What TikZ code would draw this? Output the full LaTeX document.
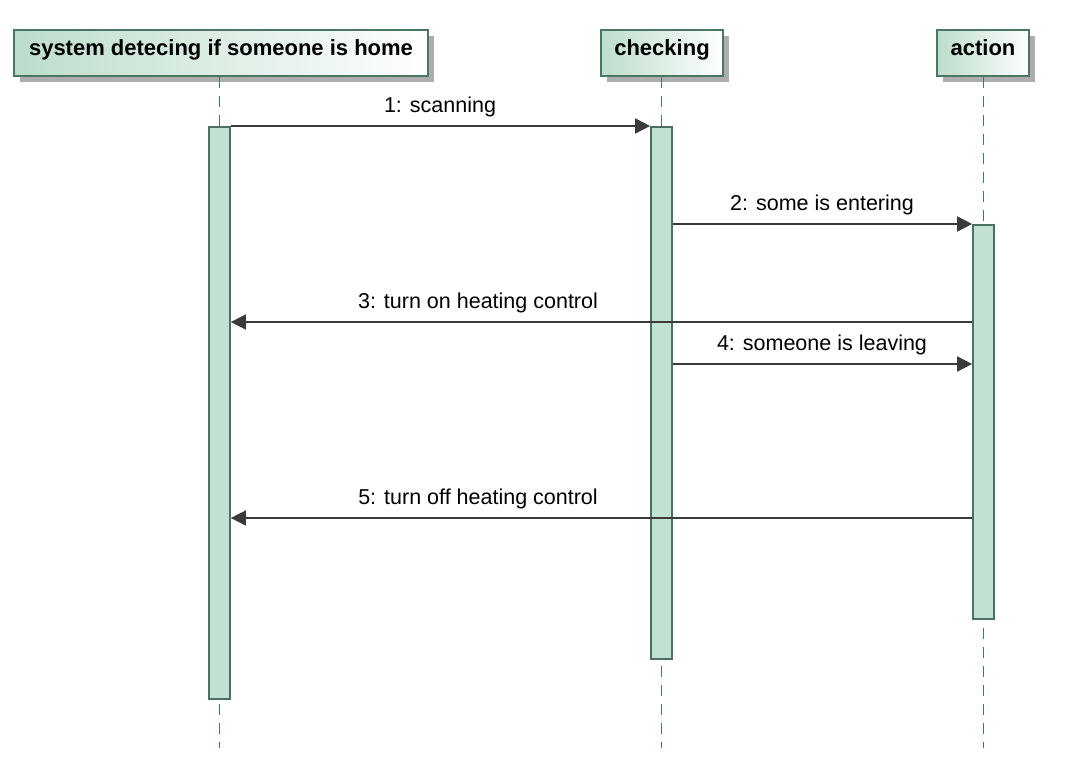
\documentclass[tikz,border=0pt]{standalone}
\usepackage{fontspec}
\setmainfont{Liberation Sans}
\usetikzlibrary{arrows.meta,shadows}
\definecolor{pborder}{HTML}{4B7762}
\definecolor{pfill}{HTML}{BCDDCB}
\definecolor{actfill}{HTML}{C2E1D2}
\definecolor{actborder}{HTML}{4A7060}
\definecolor{msgcol}{HTML}{3A3A3A}
\begin{document}
\begin{tikzpicture}[x=1pt,y=-1pt,
  participant/.style={draw=pborder, line width=1.7pt, left color=pfill, right color=white,
    minimum height=46pt, inner sep=0pt, font=\fontsize{22}{26}\selectfont\bfseries,
    text height=11pt, text depth=7pt,
    drop shadow={shadow xshift=6pt, shadow yshift=-6pt, fill=black!32, opacity=1}},
  lifeline/.style={draw=pborder, line width=1.8pt, dash pattern=on 11pt off 8pt},
  actbar/.style={draw=actborder, fill=actfill, line width=1.7pt, minimum width=21pt,
    inner sep=0pt, anchor=north},
  msg/.style={draw=msgcol, line width=1.6pt, -{Triangle[length=15pt,width=15pt]}},
  msglabel/.style={font=\fontsize{21.5}{26}\selectfont, anchor=base, inner sep=0pt}
]
\fill[white] (0,0) rectangle (1092,782);
\useasboundingbox (0,0) rectangle (1092,782);

% participants
\node[participant, minimum width=414pt] (p1) at (221,53) {system detecing if someone is home};
\node[participant, minimum width=122pt] (p2) at (662,53) {checking};
\node[participant, minimum width=92pt] (p3) at (983,53) {action};

% lifeline ends
\coordinate (l1) at (219.5,748);
\coordinate (l2) at (661.5,748);
\coordinate (l3) at (983.5,748);

\draw[lifeline] (p1.south -| l1) -- (l1);
\draw[lifeline] (p2.south -| l2) -- (l2);
\draw[lifeline] (p3.south -| l3) -- (l3);

% activation bars
\node[actbar, minimum height=572pt] (a1) at (219.5,126) {};
\node[actbar, minimum height=532pt] (a2) at (661.5,126) {};
\node[actbar, minimum height=394pt] (a3) at (983.5,224) {};

% message levels
\coordinate (y1) at (0,126);
\coordinate (y2) at (0,224);
\coordinate (y3) at (0,322);
\coordinate (y4) at (0,364);
\coordinate (y5) at (0,518);

\draw[msg] (a1.east |- y1) -- (a2.west |- y1);
\draw[msg] (a2.east |- y2) -- (a3.west |- y2);
\draw[msg] (a3.west |- y3) -- (a1.east |- y3);
\draw[msg] (a2.east |- y4) -- (a3.west |- y4);
\draw[msg] (a3.west |- y5) -- (a1.east |- y5);

\node[msglabel] (t1) at (440,112) {1: scanning};
\node[msglabel] (t2) at (822,210) {2: some is entering};
\node[msglabel] (t3) at (478,308) {3: turn on heating control};
\node[msglabel] (t4) at (822,350) {4: someone is leaving};
\node[msglabel] (t5) at (478,504) {5: turn off heating control};
\end{tikzpicture}
\end{document}
